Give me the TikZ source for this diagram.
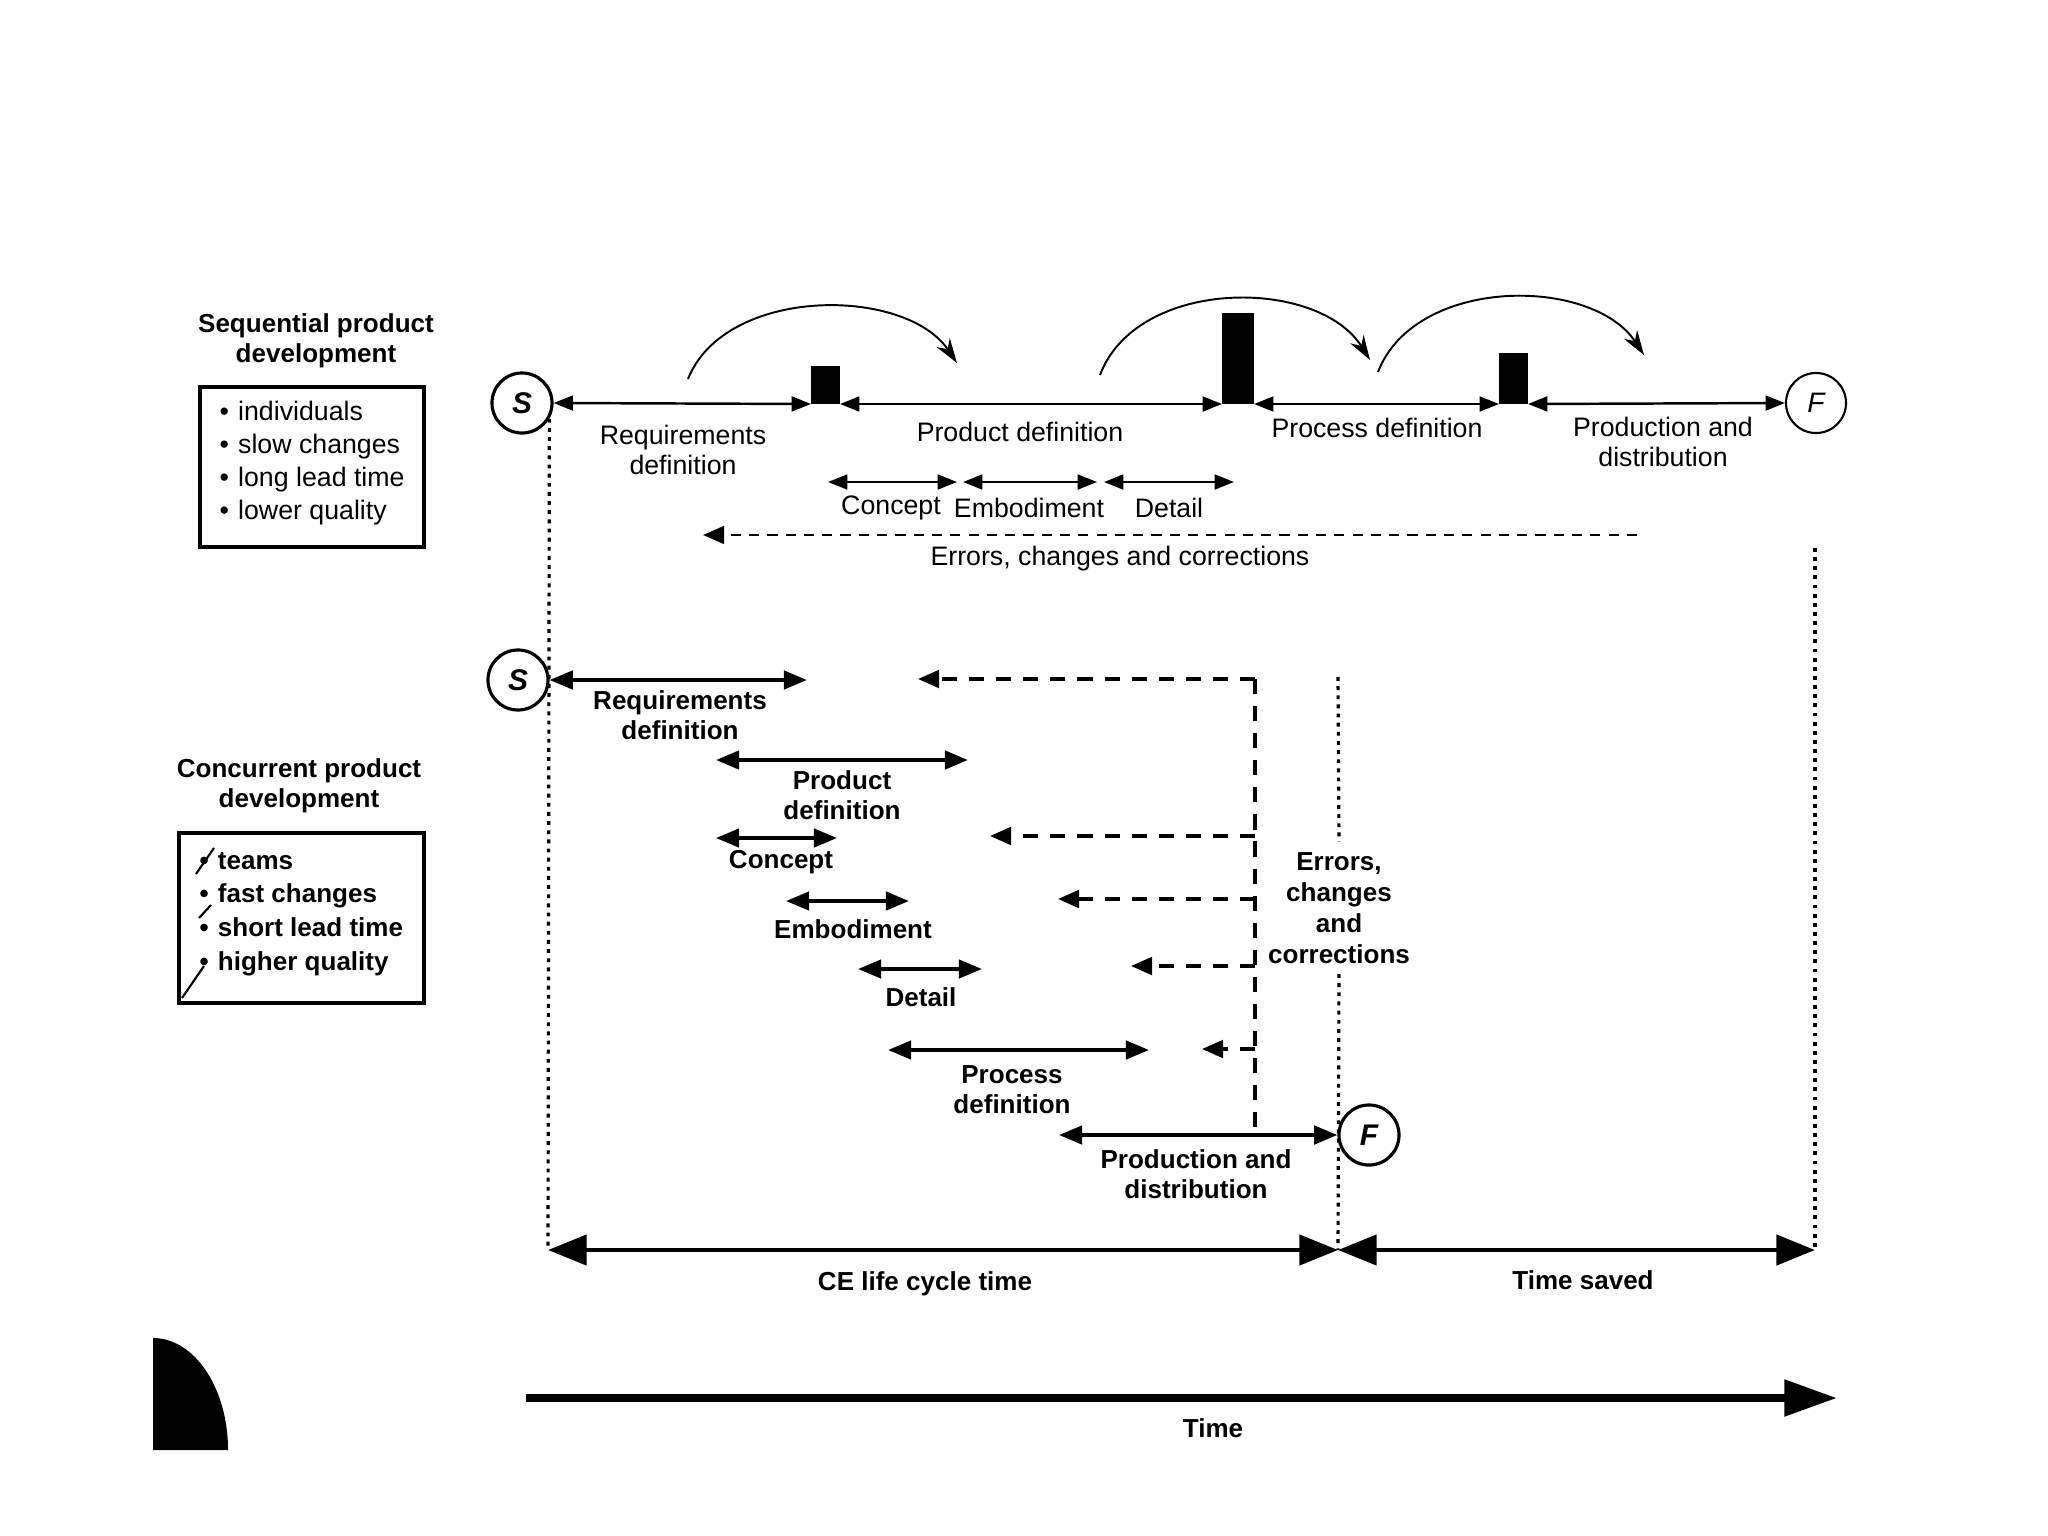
\documentclass[tikz,border=0pt]{standalone}
\usepackage{fontspec}
\setmainfont{Liberation Sans}
\usetikzlibrary{arrows.meta}
\tikzset{
  lbl/.style={font=\fontsize{7.6pt}{8.6pt}\selectfont, align=center, inner sep=0pt},
  blbl/.style={font=\fontsize{7.4pt}{8.6pt}\selectfont\bfseries, align=center, inner sep=0pt},
  tarr/.style={line width=0.7pt, {Triangle[length=5.5pt,width=4.2pt]}-{Triangle[length=5.5pt,width=4.2pt]}},
  barr/.style={line width=1.1pt, {Triangle[length=6.6pt,width=5.2pt]}-{Triangle[length=6.6pt,width=5.2pt]}},
  bigarr/.style={line width=1.4pt, {Triangle[length=11pt,width=8.5pt]}-{Triangle[length=11pt,width=8.5pt]}},
  timearr/.style={line width=2.3pt, -{Triangle[length=15pt,width=10pt]}},
  dsh/.style={line width=0.8pt, dash pattern=on 2.9pt off 2.3pt},
  dsh2/.style={line width=1pt, dash pattern=on 4.3pt off 3.4pt},
  dtip/.style={-{Triangle[length=6pt,width=5pt]}},
  dotln/.style={line width=0.9pt, dash pattern=on 1.1pt off 1.5pt},
  circ/.style={circle, draw, line width=0.9pt, minimum size=0.6cm, inner sep=0pt,
    font=\fontsize{8.5pt}{9pt}\selectfont\bfseries\itshape},
  barbox/.style={fill=black, draw=none, inner sep=0pt, outer sep=0pt, anchor=south west},
  arcst/.style={line width=0.55pt, -{Stealth[length=7pt,width=4.5pt]}},
  frame/.style={draw, line width=0.9pt, inner sep=0pt},
  note/.style={line width=0.6pt}
}
\begin{document}
\begin{tikzpicture}[x=0.01cm,y=-0.01cm]
\useasboundingbox (0,0) rectangle (2048,1536);

% ---------- Sequential legend ----------
\node[blbl] (t1) at (316,341) {Sequential product\\development};
\node[frame, minimum width=2.24cm, minimum height=1.60cm] (box1) at (312,467) {};
\node[lbl, align=left, anchor=west, font=\fontsize{7.6pt}{9.4pt}\selectfont] (items1) at (219,463)
  {\textbullet\hspace{2.6pt}individuals\\\textbullet\hspace{2.6pt}slow changes\\\textbullet\hspace{2.6pt}long lead time\\\textbullet\hspace{2.6pt}lower quality};

% ---------- Sequential timeline ----------
\node[circ] (S1) at (522,403) {S};
\node[circ, line width=0.6pt, font=\fontsize{8pt}{9pt}\selectfont\itshape] (F1) at (1816,403) {F};
\node[barbox, minimum width=0.29cm, minimum height=0.38cm] (b1) at (811,404) {};
\node[barbox, minimum width=0.32cm, minimum height=0.91cm] (b2) at (1222,404) {};
\node[barbox, minimum width=0.29cm, minimum height=0.51cm] (b3) at (1499,404) {};
\draw[tarr] (S1.east) -- (b1.south west);
\draw[tarr] (b1.south east) -- (b2.south west);
\draw[tarr] (b2.south east) -- (b3.south west);
\draw[tarr] (b3.south east) -- (F1.west);

\coordinate (a1s) at (688,379); \coordinate (a1e) at (957,363);
\coordinate (a2s) at (1100,375); \coordinate (a2e) at (1370,360);
\coordinate (a3s) at (1378,372); \coordinate (a3e) at (1644,355);
\draw[arcst] (a1s) .. controls (725,286) and (905,286) .. (a1e);
\draw[arcst] (a2s) .. controls (1137,277) and (1318,277) .. (a2e);
\draw[arcst] (a3s) .. controls (1415,276) and (1592,276) .. (a3e);

\node[lbl] (lrq1) at (683,450) {Requirements\\definition};
\node[lbl] (lpd1) at (1020,432) {Product definition};
\node[lbl] (lpr1) at (1377,428) {Process definition};
\node[lbl] (lpn1) at (1663,442) {Production and\\distribution};

\coordinate (c1a) at (828,482); \coordinate (c1b) at (957,482);
\coordinate (c2a) at (963,482); \coordinate (c2b) at (1097,482);
\coordinate (c3a) at (1104,482); \coordinate (c3b) at (1234,482);
\draw[tarr] (c1a) -- (c1b);
\draw[tarr] (c2a) -- (c2b);
\draw[tarr] (c3a) -- (c3b);
\node[lbl] (lc1) at (891,508) {Concept};
\node[lbl] (le1) at (1029,508) {Embodiment};
\node[lbl] (ld1) at (1169,508) {Detail};

\coordinate (e1r) at (1637,535); \coordinate (e1l) at (703,535);
\draw[dsh, dtip] (e1r) -- (e1l);
\node[lbl] (lerr1) at (1120,559) {Errors, changes and corrections};

% ---------- Concurrent legend ----------
\node[blbl] (t2) at (299,786) {Concurrent product\\development};
\node[frame, minimum width=2.45cm, minimum height=1.70cm] (box2) at (301.5,918) {};
\node[blbl, align=left, anchor=west, font=\fontsize{7.4pt}{9.6pt}\selectfont\bfseries] (items2) at (199,914)
  {\textbullet\hspace{2.6pt}teams\\\textbullet\hspace{2.6pt}fast changes\\\textbullet\hspace{2.6pt}short lead time\\\textbullet\hspace{2.6pt}higher quality};
\draw[note] (196,874) -- (214,848);
\draw[note] (199,918) -- (211,905);
\draw[note] (204,966) -- (182,998);

% ---------- Concurrent timeline ----------
\node[circ] (S2) at (518,680) {S};
\node[circ] (F2) at (1369,1135) {F};

\coordinate (rq2e) at (807,680);
\draw[barr] (S2.east) -- (rq2e);
\node[blbl] (lrq2) at (680,715) {Requirements\\definition};

\coordinate (pd2a) at (716,760); \coordinate (pd2b) at (968,760);
\draw[barr] (pd2a) -- (pd2b);
\node[blbl] (lpd2) at (842,795) {Product\\definition};

\coordinate (cc2a) at (716,838); \coordinate (cc2b) at (837,838);
\draw[barr] (cc2a) -- (cc2b);
\node[blbl] (lcc2) at (781,862) {Concept};

\coordinate (em2a) at (786,901); \coordinate (em2b) at (909,901);
\draw[barr] (em2a) -- (em2b);
\node[blbl] (lem2) at (853,929) {Embodiment};

\coordinate (dt2a) at (858,969); \coordinate (dt2b) at (982,969);
\draw[barr] (dt2a) -- (dt2b);
\node[blbl] (ldt2) at (921,997) {Detail};

\coordinate (pr2a) at (888,1050); \coordinate (pr2b) at (1149,1050);
\draw[barr] (pr2a) -- (pr2b);
\node[blbl] (lpr2) at (1012,1090) {Process\\definition};

\coordinate (pn2a) at (1059,1135);
\draw[barr] (pn2a) -- (F2.west);
\node[blbl] (lpn2) at (1196,1174) {Production and\\distribution};

% dashed feedback
\coordinate (dv1) at (1255,679); \coordinate (dv2) at (1255,1135);
\coordinate (dv3) at (1255,836); \coordinate (dv4) at (1255,899);
\coordinate (dv5) at (1255,966); \coordinate (dv6) at (1255,1049);
\coordinate (dh1) at (918,679); \coordinate (dh3) at (990,836);
\coordinate (dh4) at (1058,899); \coordinate (dh5) at (1131,966);
\coordinate (dh6) at (1202,1049);
\draw[dsh2] (dv1) -- (dv2);
\draw[dsh2, dtip] (dv1) -- (dh1);
\draw[dsh2, dtip] (dv3) -- (dh3);
\draw[dsh2, dtip] (dv4) -- (dh4);
\draw[dsh2, dtip] (dv5) -- (dh5);
\draw[dsh2, dtip] (dv6) -- (dh6);

\node[blbl, font=\fontsize{7.4pt}{8.8pt}\selectfont\bfseries, outer sep=3pt] (err2) at (1339,908) {Errors,\\changes\\and\\corrections};

% ---------- dotted guides ----------
\coordinate (ceL) at (548,1250);
\coordinate (ceM) at (1338,1250);
\coordinate (ceR) at (1815,1250);
\coordinate (mtop) at (1338,677);
\coordinate (rtop) at (1815,548);
\draw[dotln] (S1.-30) -- (ceL);
\draw[dotln] (mtop) -- (err2.north);
\draw[dotln] (err2.south) -- (ceM);
\draw[dotln] (rtop) -- (ceR);

% ---------- bottom arrows ----------
\draw[bigarr] (ceL) -- (ceM);
\draw[bigarr] (ceM) -- (ceR);
\node[blbl] (lce) at (925,1284) {CE life cycle time};
\node[blbl] (lts) at (1583,1280) {Time saved};

\coordinate (tl) at (526,1398); \coordinate (tr) at (1837,1398);
\draw[timearr] (tl) -- (tr);
\node[blbl] (ltime) at (1213,1428) {Time};

% scan blot
\fill (153,1450) -- (153,1338) arc[start angle=90, end angle=0, x radius=0.75cm, y radius=1.12cm] -- cycle;
\end{tikzpicture}
\end{document}
